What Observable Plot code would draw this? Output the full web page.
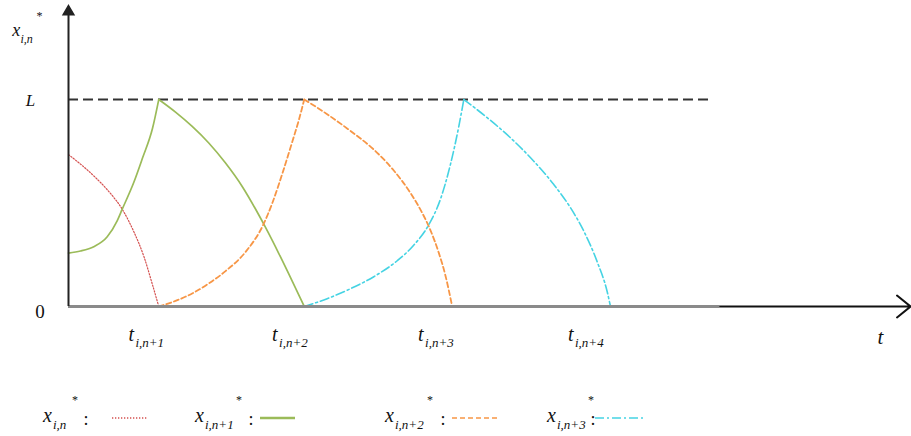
<!DOCTYPE html>
<html><head><meta charset="utf-8">
<script src="https://cdn.jsdelivr.net/npm/d3@7"></script>
<script src="https://cdn.jsdelivr.net/npm/@observablehq/plot@0.6"></script>
<style>
body{margin:0;background:#fff;font-family:"Liberation Serif","Times New Roman",serif}
svg{display:block}
</style></head><body><div id="chart"></div>
<script>
// ---- data (t in arbitrary time units, x as fraction of L) ----
const tMax = 100;          // end of the t axis
const yTop = 1.454;        // top of the x* axis
const Lval = 1;            // level L
const dashEnd = 76.6;      // end of dashed L line
const axisGrayEnd = 77.4;  // gray part of t-axis

const redT = [0, 3.00, 4.99, 6.38, 7.76, 8.95, 9.94, 10.72];
const redX = [0.734, 0.631, 0.546, 0.470, 0.361, 0.242, 0.110, 0];

const greenRiseT = [0, 1.43, 3.00, 4.60, 5.78, 6.38, 7.76, 8.79, 9.98, 10.72];
const greenRiseX = [0.258, 0.268, 0.289, 0.337, 0.414, 0.470, 0.600, 0.717, 0.861, 1];
const greenFallT = [10.72, 12.71, 14.69, 16.66, 18.65, 20.63, 22.21, 23.40, 24.98, 26.57, 28.0];
const greenFallX = [1, 0.939, 0.870, 0.790, 0.693, 0.580, 0.471, 0.382, 0.256, 0.123, 0];

const orangeRiseT = [10.72, 12.71, 14.69, 16.66, 18.65, 21.02, 23.19, 24.19, 25.38, 26.57, 27.35, 28.0];
const orangeRiseX = [0, 0.027, 0.063, 0.111, 0.171, 0.263, 0.400, 0.498, 0.640, 0.795, 0.900, 1];
const orangeFallT = [28.0, 30.72, 33.49, 36.26, 38.63, 40.62, 42.01, 42.99, 43.98, 44.77, 45.57];
const orangeFallX = [1, 0.929, 0.848, 0.758, 0.657, 0.548, 0.452, 0.368, 0.259, 0.149, 0];

const cyanRiseT = [28.0, 30.72, 33.49, 36.26, 39.04, 41.02, 42.79, 44.18, 45.37, 46.35, 46.95];
const cyanRiseX = [0, 0.038, 0.086, 0.144, 0.221, 0.297, 0.395, 0.519, 0.688, 0.869, 1];
const cyanFallT = [46.95, 49.73, 52.49, 55.26, 57.64, 59.62, 61.20, 62.79, 63.98, 64.37];
const cyanFallX = [1, 0.912, 0.815, 0.702, 0.589, 0.477, 0.364, 0.216, 0.071, 0];

const tickLabelT = [9.32, 26.37, 43.71, 61.52];
const tickSubs = ["i,n+1", "i,n+2", "i,n+3", "i,n+4"];
const legendSubs = ["i,n", "i,n+1", "i,n+2", "i,n+3"];

// ---- styles ----
const colors = {red: "#d4504f", green: "#9bbb59", orange: "#f79646", cyan: "#45d3e3"};
const dashes = {red: "1.3,1.7", green: null, orange: "5,3", cyan: "9,3,2,3"};
const widths = {red: 1.2, green: 1.7, orange: 1.8, cyan: 1.6};
const serif = "'Liberation Serif', 'Times New Roman', serif";

function seg(name, t, x) { return t.map((v, i) => ({seg: name, t: v, x: x[i]})); }
const red = seg("red", redT, redX);
const green = [...seg("gr", greenRiseT, greenRiseX), ...seg("gf", greenFallT, greenFallX)];
const orange = [...seg("or", orangeRiseT, orangeRiseX), ...seg("of", orangeFallT, orangeFallX)];
const cyan = [...seg("cr", cyanRiseT, cyanRiseX), ...seg("cf", cyanFallT, cyanFallX)];

function curveLine(data, key) {
  return Plot.line(data, {x: "t", y: "x", z: "seg", stroke: colors[key], strokeWidth: widths[key],
    strokeDasharray: dashes[key], curve: "monotone-x"});
}

const ticks = tickLabelT.map((t, i) => ({t, sub: tickSubs[i]}));
const txt = {fill: "#111", fontFamily: serif};

const chart = Plot.plot({
  width: 911, height: 380,
  marginLeft: 68, marginRight: 1, marginTop: 99, marginBottom: 74,
  style: {background: "#fff", fontFamily: serif, overflow: "visible"},
  x: {domain: [0, tMax], axis: null},
  y: {domain: [0, Lval], axis: null},
  marks: [
    Plot.ruleY([Lval], {x1: 0, x2: dashEnd, stroke: "#333", strokeWidth: 2, strokeDasharray: "10,5"}),
    curveLine(red, "red"),
    curveLine(green, "green"),
    curveLine(orange, "orange"),
    curveLine(cyan, "cyan"),
    Plot.ruleY([0], {x1: 0, x2: axisGrayEnd, stroke: "#8a8a8a", strokeWidth: 3}),
    Plot.arrow([{a: axisGrayEnd, b: tMax}], {x1: "a", x2: "b", y1: () => 0, y2: () => 0,
      stroke: "#111", strokeWidth: 2, headLength: 13, headAngle: 78}),
    Plot.ruleX([0], {y1: 0, y2: yTop - 0.03, stroke: "#222", strokeWidth: 2}),
    Plot.dot([0], {x: () => 0, y: () => yTop - 0.03, symbol: "triangle", r: 4, fill: "#222", stroke: "#222"}),
    // axis texts
    Plot.text(["L"], {...txt, x: () => 0, y: () => Lval, dx: -38, dy: 1, fontSize: 17, fontStyle: "italic"}),
    Plot.text(["0"], {...txt, x: () => 0, y: () => 0, dx: -28.5, dy: 5, fontSize: 19}),
    Plot.text(["x"], {...txt, x: () => 0, y: () => yTop, dx: -56.3, dy: 30, textAnchor: "start", lineAnchor: "bottom", fontSize: 18, fontStyle: "italic"}),
    Plot.text(["i,n"], {...txt, x: () => 0, y: () => yTop, dx: -48, dy: 37, textAnchor: "start", lineAnchor: "bottom", fontSize: 12, fontStyle: "italic"}),
    Plot.text(["*"], {...txt, x: () => 0, y: () => yTop, dx: -29, dy: 14, lineAnchor: "bottom", fontSize: 12}),
    Plot.text(["t"], {...txt, x: () => tMax, y: () => 0, dx: -30, dy: 37, lineAnchor: "bottom", fontSize: 21, fontStyle: "italic"}),
    // tick labels
    Plot.text(ticks, {...txt, x: "t", y: () => 0, text: () => "t", dx: -18.5, dy: 34, textAnchor: "start", lineAnchor: "bottom", fontSize: 20, fontStyle: "italic"}),
    Plot.text(ticks, {...txt, x: "t", y: () => 0, text: "sub", dx: -11.5, dy: 40, textAnchor: "start", lineAnchor: "bottom", fontSize: 13, fontStyle: "italic"})
  ]
});
document.getElementById("chart").appendChild(chart);

// ---- legend below the chart ----
const legendLayout = [
  {x: 43, star: 75, colon: 86, s1: 112, s2: 148, key: "red"},
  {x: 195, star: 239, colon: 251, s1: 260, s2: 295, key: "green"},
  {x: 385, star: 430, colon: 443, s1: 452, s2: 498, key: "orange"},
  {x: 547, star: 591, colon: 593, s1: 595, s2: 645, key: "cyan"}
];
const lg = d3.select("#chart").append("svg").attr("width", 911).attr("height", 56)
  .style("font-family", serif).style("background", "#fff");
legendLayout.forEach((L, i) => {
  const g = lg.append("g").attr("fill", "#111");
  g.append("text").attr("x", L.x).attr("y", 42).attr("font-size", 20).attr("font-style", "italic").text("x");
  g.append("text").attr("x", L.x + 10).attr("y", 48.5).attr("font-size", 13).attr("font-style", "italic").text(legendSubs[i]);
  g.append("text").attr("x", L.star).attr("y", 24).attr("font-size", 12).attr("text-anchor", "middle").text("*");
  g.append("text").attr("x", L.colon).attr("y", 45).attr("font-size", 18).attr("text-anchor", "middle").text(":");
  g.append("line").attr("x1", L.s1).attr("x2", L.s2).attr("y1", 38).attr("y2", 38)
    .attr("stroke", colors[L.key]).attr("stroke-width", L.key === "green" ? 2.4 : 1.6)
    .attr("stroke-dasharray", dashes[L.key]);
});
</script></body></html>
